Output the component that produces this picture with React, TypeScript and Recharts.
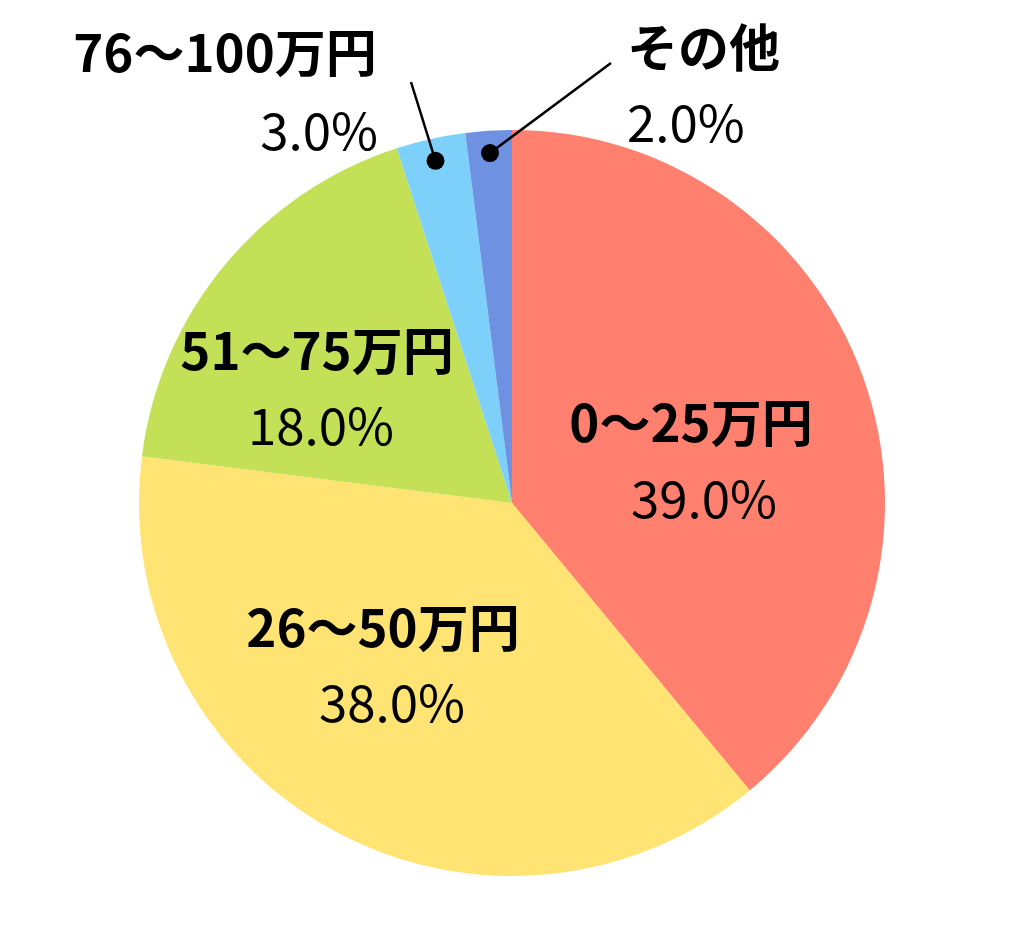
import React from 'react';
import { PieChart, Pie, Cell } from 'recharts';

// 金額帯ごとの割合 (%)
const categories = ['0～25万円', '26～50万円', '51～75万円', '76～100万円', 'その他'];
const shares = [39, 38, 18, 3, 2];
const colors = ['#FF806E', '#FFE474', '#C3E056', '#7DD0FA', '#6E92E1'];

const data = categories.map((name, i) => ({ name, value: shares[i] }));

// label placement relative to the pie centre
const labelLayout = [
  { anchor: 'middle', name: [179, -61], pct: [192, 15] },
  { anchor: 'middle', name: [-129, 144], pct: [-120, 219] },
  { anchor: 'middle', name: [-195, -133], pct: [-191, -58] },
  { anchor: 'outside', name: [-287, -431], pct: [-134, -353], lineEnd: [-101, -421], nameAnchor: 'middle', pctAnchor: 'end' },
  { anchor: 'outside', name: [115, -436], pct: [115, -361], lineEnd: [99, -440], nameAnchor: 'start', pctAnchor: 'start' },
];

const RADIAN = Math.PI / 180;
const FONT = '"Noto Sans CJK JP", "Noto Sans", sans-serif';

function renderLabel(props: any) {
  const { cx, cy, midAngle, outerRadius, index, name, value } = props;
  const layout = labelLayout[index];
  const pctText = `${Number(value).toFixed(1)}%`;
  let line = null;
  let nameAnchor = 'middle';
  let pctAnchor = 'middle';
  if (layout.anchor === 'outside') {
    const r = outerRadius * 0.94;
    const dx = cx + r * Math.cos(-midAngle * RADIAN);
    const dy = cy + r * Math.sin(-midAngle * RADIAN);
    line = (
      <g>
        <line
          x1={dx}
          y1={dy}
          x2={cx + layout.lineEnd[0]}
          y2={cy + layout.lineEnd[1]}
          stroke="#000"
          strokeWidth={2.5}
        />
        <circle cx={dx} cy={dy} r={9} fill="#000" />
      </g>
    );
    nameAnchor = layout.nameAnchor;
    pctAnchor = layout.pctAnchor;
  }
  return (
    <g>
      {line}
      <text
        x={cx + layout.name[0]}
        y={cy + layout.name[1]}
        textAnchor={nameAnchor}
        fontFamily={FONT}
        fontWeight="bold"
        fontSize={51}
        fill="#000"
      >
        {name}
      </text>
      <text
        x={cx + layout.pct[0]}
        y={cy + layout.pct[1]}
        textAnchor={pctAnchor}
        fontFamily={FONT}
        fontSize={51}
        fill="#000"
      >
        {pctText}
      </text>
    </g>
  );
}

export default function App() {
  return (
    <div style={{ position: 'fixed', left: 0, top: 0, background: '#fff' }}>
      <PieChart width={1024} height={939} margin={{ top: 0, right: 0, bottom: 0, left: 0 }}>
        <Pie
          data={data}
          dataKey="value"
          nameKey="name"
          cx={512}
          cy={503}
          outerRadius={373}
          startAngle={90}
          endAngle={-270}
          stroke="none"
          label={renderLabel}
          labelLine={false}
          isAnimationActive={false}
        >
          {data.map((d, i) => (
            <Cell key={d.name} fill={colors[i]} />
          ))}
        </Pie>
      </PieChart>
    </div>
  );
}
